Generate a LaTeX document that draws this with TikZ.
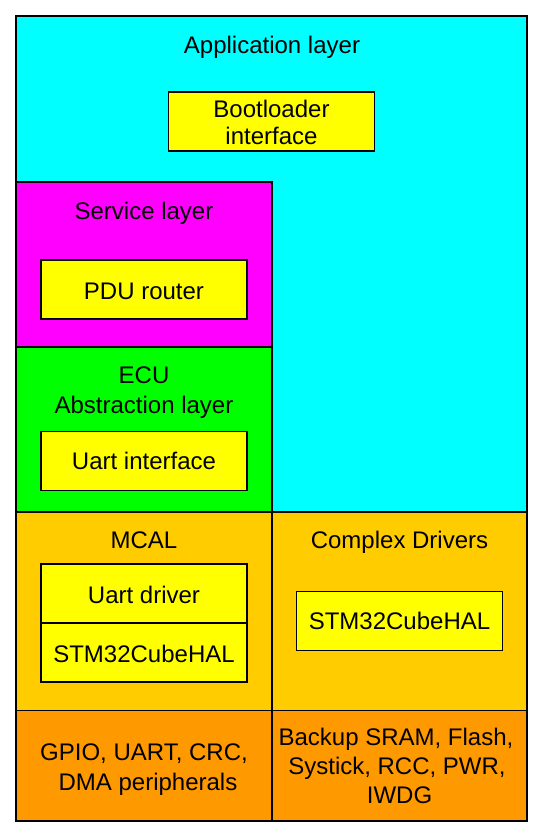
\documentclass[tikz,border=0pt]{standalone}
\usepackage{fontspec}
\setmainfont{Liberation Sans}
\definecolor{appcyan}{HTML}{00FFFF}
\definecolor{srvmagenta}{HTML}{FF00FF}
\definecolor{ecugreen}{HTML}{00FF00}
\definecolor{boxyellow}{HTML}{FFFF00}
\definecolor{mcalorange}{HTML}{FFCC00}
\definecolor{hworange}{HTML}{FF9900}
\begin{document}
\begin{tikzpicture}[x=1pt,y=-1pt,
  layerbox/.style={draw=black, line width=1.6pt},
  modbox/.style={draw=black, fill=boxyellow, line width=1.6pt, inner sep=0pt, minimum width=206pt, minimum height=59pt},
  lbl/.style={anchor=base, inner sep=0pt, font=\fontsize{24}{28}\selectfont}]
\useasboundingbox (0,0) rectangle (544,838);
% layers
\draw[layerbox, fill=appcyan] (16,16) rectangle (527,512);
\draw[layerbox, fill=srvmagenta] (16,182) rectangle (272,347);
\draw[layerbox, fill=ecugreen] (16,347) rectangle (272,512);
\draw[layerbox, fill=mcalorange] (16,512) rectangle (272,710.5);
\draw[layerbox, fill=mcalorange] (272,512) rectangle (527,710.5);
\draw[layerbox, fill=hworange] (16,710.5) rectangle (272,821);
\draw[layerbox, fill=hworange] (272,710.5) rectangle (527,821);
% module boxes
\node[modbox] (boot) at (271.5,121.5) {};
\node[modbox] (pdu) at (144,289.5) {};
\node[modbox] (uartif) at (144,461) {};
\node[modbox] (uartdrv) at (144,593.5) {};
\node[modbox] (halm) at (144,652.5) {};
\node[modbox] (halc) at (399.5,621) {};
% labels
\node[lbl] (tapp) at (272,53) {Application layer};
\node[lbl] (tboot1) at (271.5,117) {Bootloader};
\node[lbl] (tboot2) at (271.5,144.5) {interface};
\node[lbl] (tsrv) at (144,219) {Service layer};
\node[lbl] (tpdu) at (144,299) {PDU router};
\node[lbl] (tecu1) at (144,383) {ECU};
\node[lbl] (tecu2) at (144,413) {Abstraction layer};
\node[lbl] (tuartif) at (144,469) {Uart interface};
\node[lbl] (tmcal) at (144,548) {MCAL};
\node[lbl] (tcdd) at (399.5,548) {Complex Drivers};
\node[lbl] (tuartdrv) at (144,603) {Uart driver};
\node[lbl] (thalm) at (144,662) {STM32CubeHAL};
\node[lbl] (thalc) at (399.5,629) {STM32CubeHAL};
\node[lbl] (thw1a) at (144,760) {GPIO, UART, CRC,};
\node[lbl] (thw1b) at (148,790) {DMA peripherals};
\node[lbl] (thw2a) at (396,745) {Backup SRAM, Flash,};
\node[lbl] (thw2b) at (397,774) {Systick, RCC, PWR,};
\node[lbl] (thw2c) at (399.5,803.3) {IWDG};
\end{tikzpicture}
\end{document}
